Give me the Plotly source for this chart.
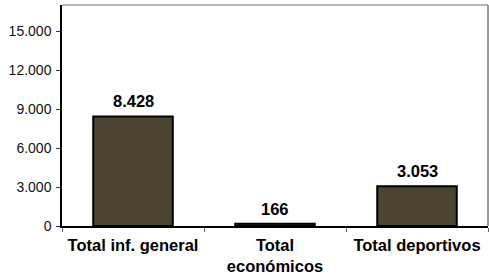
import plotly.graph_objects as go

categories = ["Total inf. general", "Total<br>económicos", "Total deportivos"]
values = [8428, 166, 3053]
y_ticks = [0, 3000, 6000, 9000, 12000, 15000]

FONT = "Liberation Sans, Arial"

fig = go.Figure(go.Bar(
    x=categories, y=values,
    marker=dict(color="#4a4430", line=dict(color="black", width=2)),
    width=0.56,
    hoverinfo="skip",
))

for c, v in zip(categories, values):
    fig.add_annotation(
        x=c, y=v, xref="x", yref="y",
        text="<b>" + f"{v:,d}".replace(",", ".") + "</b>",
        showarrow=False, yanchor="bottom", yshift=4,
        font=dict(family=FONT, size=16.5, color="black"),
    )

fig.update_layout(
    width=489, height=275,
    margin=dict(l=62, r=1, t=5, b=49),
    paper_bgcolor="white", plot_bgcolor="white",
    separators=",.",
    showlegend=False,
    font=dict(family=FONT, color="black"),
    xaxis=dict(
        automargin=False,
        tickson="boundaries", ticks="outside", ticklen=4, tickcolor="#666",
        ticklabelstandoff=3,
        showline=True, linecolor="black", linewidth=1.5,
        tickfont=dict(size=16.5, family=FONT, color="black"),
        tickvals=categories,
        ticktext=["<b>" + c + "</b>" for c in categories],
        showgrid=False,
    ),
    yaxis=dict(
        automargin=False,
        range=[0, 17000], tickvals=y_ticks, tickformat=",d",
        ticks="outside", ticklen=4, tickcolor="#333",
        ticklabelstandoff=2,
        showline=True, linecolor="black", linewidth=1.5,
        showgrid=False, zeroline=False,
        tickfont=dict(size=14, color="#111", family=FONT),
    ),
    shapes=[
        dict(type="line", xref="paper", yref="paper", x0=0, x1=1, y0=1, y1=1,
             line=dict(color="#a0a0a0", width=1.5)),
        dict(type="line", xref="paper", yref="paper", x0=1, x1=1, y0=0, y1=1,
             line=dict(color="#777777", width=1.5)),
    ],
)

fig.write_html(
    "out.html",
    config={"displayModeBar": False},
    post_script="document.body.style.margin='0';document.body.style.overflow='hidden';",
)
